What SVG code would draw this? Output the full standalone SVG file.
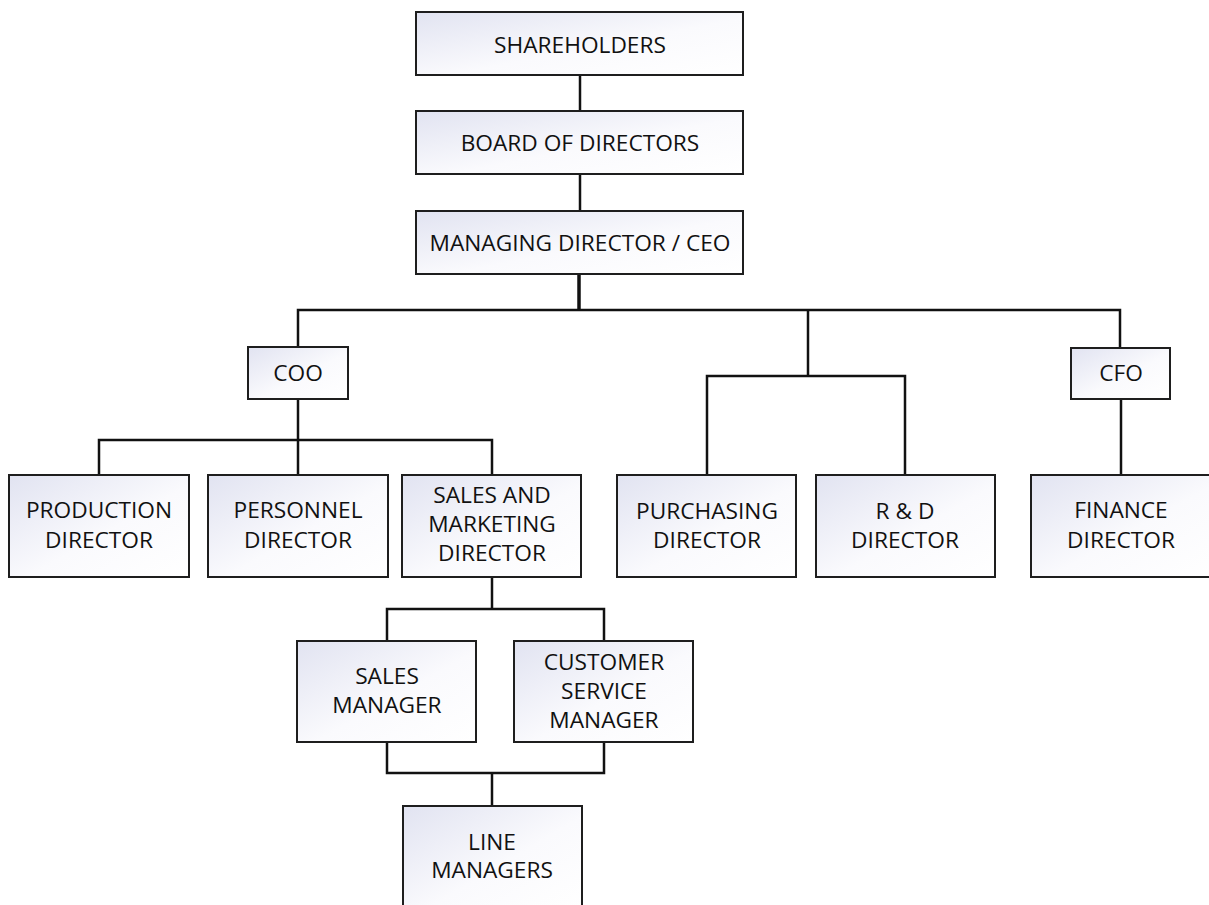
<svg xmlns="http://www.w3.org/2000/svg" width="1209" height="905" viewBox="0 0 1209 905">
  <style>
    .box { fill: url(#boxFill); stroke: #1e1e1e; stroke-width: 2; }
    .lbl { font-family: "Open Sans", "Liberation Sans", sans-serif; font-size: 22.7px; fill: #111; text-anchor: middle; }
    .wire { fill: none; stroke: #111; stroke-width: 2.5; }
    .stem { fill: none; stroke: #111; stroke-width: 3.5; }
  </style>
  <defs>
    <linearGradient id="boxFill" x1="0" y1="0" x2="1" y2="1">
      <stop offset="0" stop-color="#e1e3f1"/>
      <stop offset="0.55" stop-color="#fafafd"/>
      <stop offset="1" stop-color="#ffffff"/>
    </linearGradient>
  </defs>
  <rect width="1209" height="905" fill="#ffffff"/>

  <!-- reporting lines -->
  <g id="connectors">
    <path class="wire" d="M580 75 V111"/>
    <path class="wire" d="M580 174 V211"/>
    <path class="stem" d="M579 274 V310"/>
    <path class="wire" d="M298 347 V310 H1120 V347"/>
    <path class="wire" d="M808 310 V376"/>
    <path class="wire" d="M707 475 V376 H905 V475"/>
    <path class="wire" d="M298 399 V440"/>
    <path class="wire" d="M99 475 V440 H492 V475"/>
    <path class="wire" d="M298 440 V475"/>
    <path class="wire" d="M1121 399 V475"/>
    <path class="wire" d="M492 577 V609"/>
    <path class="wire" d="M387 641 V609 H604 V641"/>
    <path class="wire" d="M387 742 V773 H604 V742"/>
    <path class="wire" d="M492 773 V806"/>
  </g>

  <g id="shareholders">
    <rect class="box" x="416" y="12" width="327" height="63"/>
    <text class="lbl" x="580" y="53">SHAREHOLDERS</text>
  </g>
  <g id="board">
    <rect class="box" x="416" y="111" width="327" height="63"/>
    <text class="lbl" x="580" y="151">BOARD OF DIRECTORS</text>
  </g>
  <g id="ceo">
    <rect class="box" x="416" y="211" width="327" height="63"/>
    <text class="lbl" x="580" y="251">MANAGING DIRECTOR / CEO</text>
  </g>
  <g id="coo">
    <rect class="box" x="248" y="347" width="100" height="52"/>
    <text class="lbl" x="298" y="381">COO</text>
  </g>
  <g id="cfo">
    <rect class="box" x="1071" y="348" width="99" height="51"/>
    <text class="lbl" x="1121" y="381">CFO</text>
  </g>
  <g id="production">
    <rect class="box" x="9" y="475" width="180" height="102"/>
    <text class="lbl" x="99" y="518">PRODUCTION</text>
    <text class="lbl" x="99" y="548">DIRECTOR</text>
  </g>
  <g id="personnel">
    <rect class="box" x="208" y="475" width="180" height="102"/>
    <text class="lbl" x="298" y="518">PERSONNEL</text>
    <text class="lbl" x="298" y="548">DIRECTOR</text>
  </g>
  <g id="sales-marketing">
    <rect class="box" x="402" y="475" width="179" height="102"/>
    <text class="lbl" x="492" y="503">SALES AND</text>
    <text class="lbl" x="492" y="532">MARKETING</text>
    <text class="lbl" x="492" y="561">DIRECTOR</text>
  </g>
  <g id="purchasing">
    <rect class="box" x="617" y="475" width="179" height="102"/>
    <text class="lbl" x="707" y="519">PURCHASING</text>
    <text class="lbl" x="707" y="548">DIRECTOR</text>
  </g>
  <g id="rnd">
    <rect class="box" x="816" y="475" width="179" height="102"/>
    <text class="lbl" x="905" y="519">R &amp; D</text>
    <text class="lbl" x="905" y="548">DIRECTOR</text>
  </g>
  <g id="finance">
    <rect class="box" x="1031" y="475" width="182" height="102"/>
    <text class="lbl" x="1121" y="518">FINANCE</text>
    <text class="lbl" x="1121" y="548">DIRECTOR</text>
  </g>
  <g id="sales-manager">
    <rect class="box" x="297" y="641" width="179" height="101"/>
    <text class="lbl" x="387" y="684">SALES</text>
    <text class="lbl" x="387" y="713">MANAGER</text>
  </g>
  <g id="customer-service">
    <rect class="box" x="514" y="641" width="179" height="101"/>
    <text class="lbl" x="604" y="670">CUSTOMER</text>
    <text class="lbl" x="604" y="699">SERVICE</text>
    <text class="lbl" x="604" y="728">MANAGER</text>
  </g>
  <g id="line-managers">
    <rect class="box" x="403" y="806" width="179" height="106"/>
    <text class="lbl" x="492" y="850">LINE</text>
    <text class="lbl" x="492" y="878">MANAGERS</text>
  </g>
</svg>
